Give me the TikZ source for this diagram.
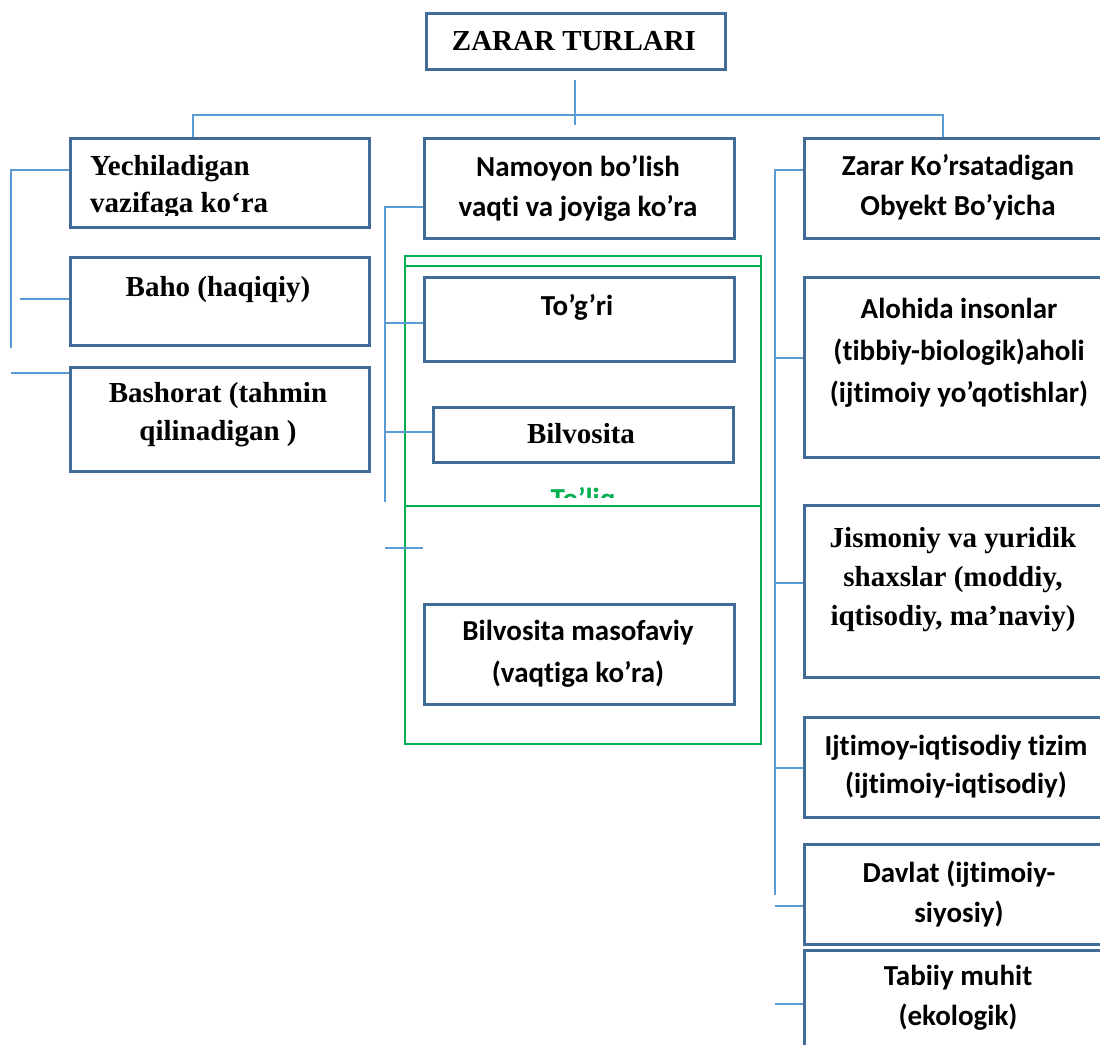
\documentclass[tikz,border=0pt]{standalone}
\usepackage{fontspec}
\setmainfont{Liberation Serif}
\newfontfamily\calibfam[Ligatures={NoCommon,NoRequired,NoContextual},Contextuals={NoAlternate}]{Carlito}
\newcommand{\myrm}{\rmfamily\bfseries\fontsize{29}{36}\selectfont}
\newcommand{\mysf}{\calibfam\bfseries\fontsize{29}{36}\selectfont}
\definecolor{boxblue}{RGB}{65,108,152}
\definecolor{linkblue}{RGB}{91,155,213}
\definecolor{grn}{RGB}{0,176,80}
\tikzset{
  box/.style={draw=boxblue, line width=3pt, inner sep=0pt, anchor=north west},
  conn/.style={draw=linkblue, line width=1.5pt},
  frame/.style={draw=grn, line width=2.8pt},
  rmt/.style={font=\myrm, anchor=base, inner sep=0pt},
  sft/.style={font=\mysf, anchor=base, inner sep=0pt},
}
\begin{document}
\begin{tikzpicture}[x=1pt,y=-1pt]
\useasboundingbox (0,0) rectangle (1100,1044);
\clip (0,0) rectangle (1100,1044);
\fill[white] (0,0) rectangle (1100,1044);

% boxes
\node[box, minimum width=299pt, minimum height=56pt] (top) at (425,12) {};
\node[box, minimum width=299pt, minimum height=89pt] (b1) at (69,137) {};
\node[box, minimum width=299pt, minimum height=88pt] (b2) at (69,256) {};
\node[box, minimum width=299pt, minimum height=104pt] (b3) at (69,366) {};
\node[box, minimum width=310pt, minimum height=100pt] (nb) at (423,137) {};
\node[box, minimum width=310pt, minimum height=84pt] (tg) at (423,276) {};
\node[box, minimum width=300pt, minimum height=55pt] (bv) at (432,406) {};
\node[box, minimum width=310pt, minimum height=100pt] (bm) at (423,603) {};
\node[box, minimum width=302pt, minimum height=100pt] (zk) at (803,137) {};
\node[box, minimum width=302pt, minimum height=180pt] (al) at (803,276) {};
\node[box, minimum width=302pt, minimum height=172pt] (jy) at (803,504) {};
\node[box, minimum width=302pt, minimum height=100pt] (it) at (803,716) {};
\node[box, minimum width=302pt, minimum height=100pt] (dv) at (803,843) {};
\node[box, minimum width=302pt, minimum height=112pt] (tb) at (803,949) {};

% green frames
\draw[frame] (405,256) rectangle (761,506);
\draw[frame] (405,266) -- (761,266);
\draw[frame] (405,506) rectangle (761,744);

% texts
\node[rmt] (ttop) at (574,50) {ZARAR TURLARI};
\begin{scope}
  \clip (69,137) rectangle (368,215);
  \node[rmt, anchor=base west] (t1a) at (90,175) {Yechiladigan};
  \node[rmt, anchor=base west] (t1b) at (90,212) {vazifaga ko‘ra};
\end{scope}
\node[rmt] (t2) at (218,296) {Baho (haqiqiy)};
\node[rmt] (t3a) at (218,402) {Bashorat (tahmin};
\node[rmt] (t3b) at (218,440) {qilinadigan )};
\node[sft] (tn1) at (578,176) {Namoyon bo’lish};
\node[sft] (tn2) at (578,216) {vaqti va joyiga ko’ra};
\node[sft] (ttg) at (577,315) {To’g’ri};
\node[rmt] (tbv) at (581,443) {Bilvosita};
\begin{scope}
  \clip (405,480) rectangle (761,497);
  \node[sft, text=grn] (ttl) at (583,508) {To’liq};
\end{scope}
\node[sft] (tbm1) at (578,640) {Bilvosita masofaviy};
\node[sft] (tbm2) at (578,682) {(vaqtiga ko’ra)};
\node[sft] (tz1) at (958,175) {Zarar Ko’rsatadigan};
\node[sft] (tz2) at (958,215) {Obyekt Bo’yicha};
\node[sft] (ta1) at (959,318) {Alohida insonlar};
\node[sft] (ta2) at (959,360) {(tibbiy-biologik)aholi};
\node[sft] (ta3) at (959,402) {(ijtimoiy yo’qotishlar)};
\node[rmt] (tj1) at (953,547) {Jismoniy va yuridik};
\node[rmt] (tj2) at (953,586) {shaxslar (moddiy,};
\node[rmt] (tj3) at (953,625) {iqtisodiy, ma’naviy)};
\node[sft] (ti1) at (956,755) {Ijtimoy-iqtisodiy tizim};
\node[sft] (ti2) at (956,793) {(ijtimoiy-iqtisodiy)};
\node[sft] (td1) at (959,882) {Davlat (ijtimoiy-};
\node[sft] (td2) at (959,922) {siyosiy)};
\node[sft] (tt1) at (958,985) {Tabiiy muhit};
\node[sft] (tt2) at (958,1025) {(ekologik)};

% top connectors
\coordinate (T1) at (575,80);
\coordinate (T2) at (575,125);
\coordinate (HL) at (193,115);
\coordinate (HR) at (943,115);
\draw[conn] (T1) -- (T2);
\draw[conn] (HL |- b1.north) -- (HL) -- (HR) -- (HR |- zk.north);

% left connectors
\coordinate (L0) at (11,170);
\coordinate (L1) at (11,348);
\coordinate (L2) at (20,299);
\coordinate (L3) at (11,373);
\draw[conn] (L1) -- (L0) -- (L0 -| b1.west);
\draw[conn] (L2) -- (L2 -| b2.west);
\draw[conn] (L3) -- (L3 -| b3.west);

% middle connectors
\coordinate (M0) at (385,207);
\coordinate (M1) at (385,502);
\coordinate (M2) at (385,323);
\coordinate (M3) at (385,432);
\coordinate (M4) at (385,548);
\draw[conn] (M1) -- (M0) -- (M0 -| nb.west);
\draw[conn] (M2) -- (M2 -| tg.west);
\draw[conn] (M3) -- (M3 -| bv.west);
\draw[conn] (M4) -- (M4 -| bm.west);

% right connectors
\coordinate (R0) at (775,170);
\coordinate (R1) at (775,895);
\coordinate (R2) at (775,358);
\coordinate (R3) at (775,583);
\coordinate (R4) at (775,768);
\coordinate (R5) at (775,906);
\coordinate (R6) at (775,1004);
\draw[conn] (R1) -- (R0) -- (R0 -| zk.west);
\draw[conn] (R2) -- (R2 -| al.west);
\draw[conn] (R3) -- (R3 -| jy.west);
\draw[conn] (R4) -- (R4 -| it.west);
\draw[conn] (R5) -- (R5 -| dv.west);
\draw[conn] (R6) -- (R6 -| tb.west);
\end{tikzpicture}
\end{document}
